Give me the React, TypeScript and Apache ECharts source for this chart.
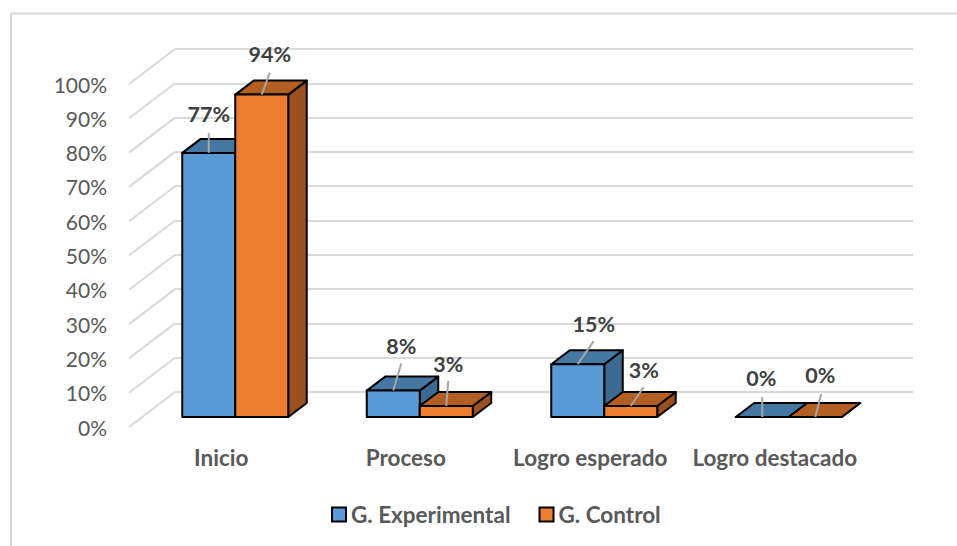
import React, { useEffect, useRef } from "react";
import * as echarts from "echarts";

const categories = ["Inicio", "Proceso", "Logro esperado", "Logro destacado"];
// Bar heights; the labels show them rounded to whole percents
const experimental = [77, 7.7, 15.4, 0];
const control = [94, 3.2, 3.2, 0];
const yTicks = [0, 10, 20, 30, 40, 50, 60, 70, 80, 90, 100];

// Layout of the leader lines: [line end dx, line end dy, label dx, label dy] from the bar's front-top centre
const leadersExp = [
  [0, -20, 0, -39],
  [8, -27, 8, -45],
  [16, -23, 16, -40],
  [0, -20, -1, -39],
];
const leadersCtl = [
  [8, -22, 8, -41],
  [2, -25, 2, -42],
  [13, -19, 13, -36],
  [6, -23, 5, -42],
];

const FONT = "Lato, Carlito, Calibri, sans-serif";
const WALL_DX = 46;
const WALL_DY = -35;
const BAR_SHIFT_X = 14;
const BAR_SHIFT_Y = -10;
const BAR_W = 53;
const DEPTH_DX = 18.5;
const DEPTH_DY = -14;

function barSeries(
  name: string,
  values: number[],
  leaders: number[][],
  slot: number,
  front: string,
  top: string,
  side: string
) {
  return {
    name,
    type: "custom",
    xAxisIndex: 1,
    yAxisIndex: 1,
    clip: false,
    silent: true,
    itemStyle: { color: front },
    encode: { x: 0, y: 1 },
    data: values.map((v, i) => [i, v]),
    renderItem: (_params: any, api: any) => {
      const i = api.value(0);
      const v = api.value(1);
      const p = api.coord([i, v]);
      const b = api.coord([i, 0]);
      const x0 = p[0] + BAR_SHIFT_X + slot * BAR_W;
      const x1 = x0 + BAR_W;
      const yTop = p[1] + BAR_SHIFT_Y;
      const yBase = b[1] + BAR_SHIFT_Y;
      const edge = { stroke: "#000000", lineWidth: 2, lineJoin: "round" };
      const cx = (x0 + x1) / 2;
      const l = leaders[i];
      const children: any[] = [
        {
          type: "polygon",
          shape: {
            points: [
              [x1, yTop],
              [x1 + DEPTH_DX, yTop + DEPTH_DY],
              [x1 + DEPTH_DX, yBase + DEPTH_DY],
              [x1, yBase],
            ],
          },
          style: { fill: side, ...edge },
        },
        {
          type: "polygon",
          shape: {
            points: [
              [x0, yTop],
              [x0 + DEPTH_DX, yTop + DEPTH_DY],
              [x1 + DEPTH_DX, yTop + DEPTH_DY],
              [x1, yTop],
            ],
          },
          style: { fill: top, ...edge },
        },
        {
          type: "rect",
          shape: { x: x0, y: yTop, width: BAR_W, height: yBase - yTop },
          style: { fill: front, ...edge },
        },
        {
          type: "line",
          shape: { x1: cx, y1: yTop, x2: cx + l[0], y2: yTop + l[1] },
          style: { stroke: "#A6A6A6", lineWidth: 2 },
        },
        {
          type: "text",
          style: {
            text: `${Math.round(v)}%`,
            x: cx + l[2],
            y: yTop + l[3],
            align: "center",
            verticalAlign: "middle",
            fill: "#404040",
            font: `bold 21.5px ${FONT}`,
          },
        },
      ];
      return { type: "group", children };
    },
  };
}

export default function App() {
  const ref = useRef<HTMLDivElement>(null);
  useEffect(() => {
    const chart = echarts.init(ref.current!, undefined, { renderer: "svg" });
    chart.setOption({
      animation: false,
      backgroundColor: "#ffffff",
      textStyle: { fontFamily: FONT },
      grid: [
        { left: 175, top: 49, width: 738, height: 343 },
        { left: 129, top: 84, width: 738, height: 343 },
      ],
      xAxis: [
        { type: "category", gridIndex: 0, data: categories, show: false },
        {
          type: "category",
          gridIndex: 1,
          data: categories,
          axisLine: { show: false },
          axisTick: { show: false },
          axisLabel: {
            margin: 19,
            interval: 0,
            color: "#595959",
            fontFamily: FONT,
            fontWeight: "bold",
            fontSize: 22.5,
          },
        },
      ],
      yAxis: [
        {
          type: "value",
          gridIndex: 0,
          min: 0,
          max: 100,
          interval: 10,
          axisLine: { show: false },
          axisTick: { show: false },
          axisLabel: { show: false },
          splitLine: { show: true, lineStyle: { color: "#D9D9D9", width: 2 } },
        },
        {
          type: "value",
          gridIndex: 1,
          min: 0,
          max: 100,
          interval: 10,
          axisLine: { show: false },
          axisTick: { show: false },
          splitLine: { show: false },
          axisLabel: {
            margin: 22,
            color: "#595959",
            fontFamily: FONT,
            fontSize: 21,
            formatter: "{value}%",
          },
        },
      ],
      legend: {
        left: 326,
        top: 498,
        itemWidth: 14,
        itemHeight: 14,
        itemGap: 28,
        icon: "rect",
        data: ["G. Experimental", "G. Control"],
        itemStyle: { borderColor: "#000000", borderWidth: 2 },
        textStyle: {
          color: "#595959",
          fontFamily: FONT,
          fontWeight: "bold",
          fontSize: 22.5,
        },
      },
      graphic: [
        {
          type: "polyline",
          silent: true,
          shape: {
            points: [
              [957, 13.5],
              [11, 13.5],
              [11, 546],
            ],
          },
          style: { stroke: "#D9D9D9", lineWidth: 2, fill: "none" },
        },
      ],
      series: [
        {
          name: "walls",
          type: "custom",
          xAxisIndex: 1,
          yAxisIndex: 1,
          clip: false,
          silent: true,
          encode: { y: 0 },
          data: yTicks.map((t) => [t]),
          renderItem: (params: any, api: any) => {
            const p = api.coord([0, api.value(0)]);
            const x = params.coordSys.x;
            return {
              type: "line",
              shape: { x1: x, y1: p[1], x2: x + WALL_DX, y2: p[1] + WALL_DY },
              style: { stroke: "#D9D9D9", lineWidth: 2 },
            };
          },
        },
        barSeries("G. Experimental", experimental, leadersExp, -1, "#5B9BD5", "#4577A3", "#3C6A92"),
        barSeries("G. Control", control, leadersCtl, 0, "#ED7D31", "#B35E22", "#9A511E"),
      ],
    });
    return () => chart.dispose();
  }, []);
  return <div ref={ref} style={{ position: "absolute", left: 0, top: 0, width: 957, height: 546 }} />;
}
